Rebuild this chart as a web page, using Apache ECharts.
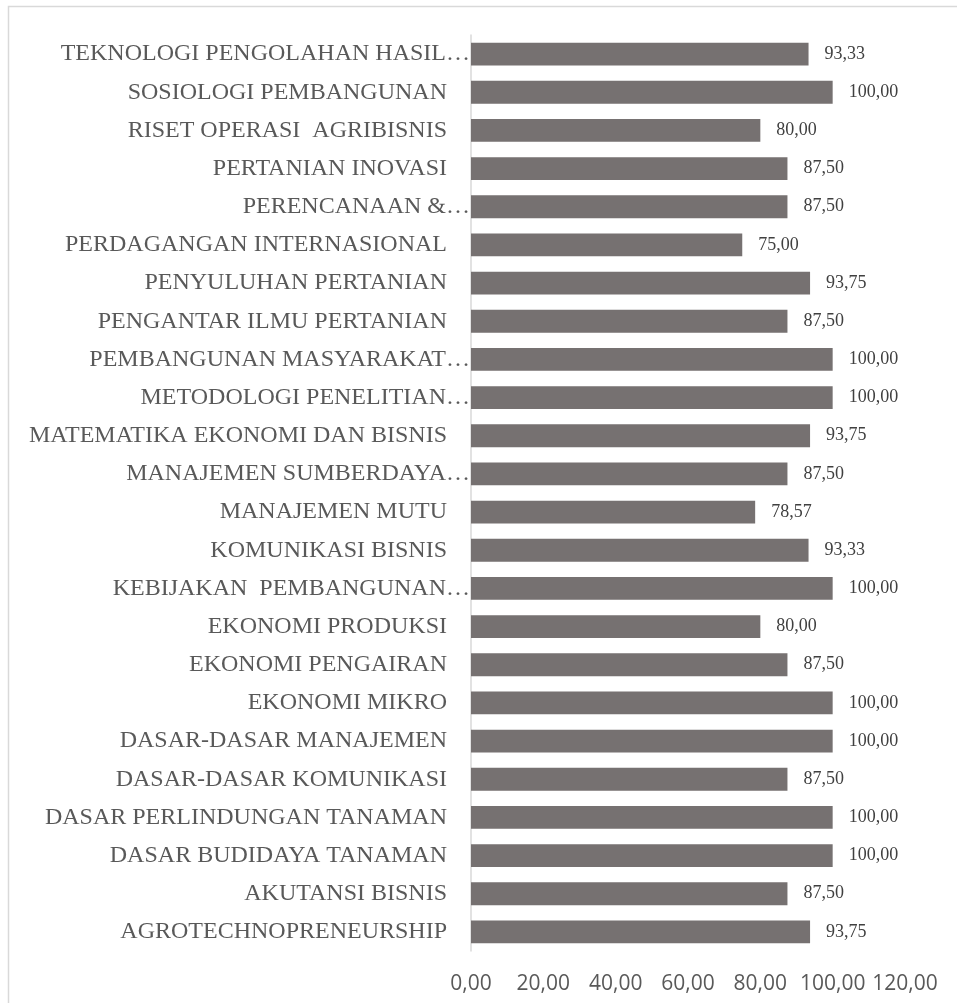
<!DOCTYPE html>
<html>
<head>
<meta charset="utf-8">
<script src="https://cdn.jsdelivr.net/npm/echarts@6/dist/echarts.min.js"></script>
<style>
  html, body { margin: 0; padding: 0; background: #fff; }
  #chart { width: 957px; height: 1003px; }
</style>
</head>
<body>
<div id="chart"></div>
<script>
// categories, top to bottom as in the picture
const categories = [
  'TEKNOLOGI PENGOLAHAN HASIL…',
  'SOSIOLOGI PEMBANGUNAN',
  'RISET OPERASI  AGRIBISNIS',
  'PERTANIAN INOVASI',
  'PERENCANAAN &…',
  'PERDAGANGAN INTERNASIONAL',
  'PENYULUHAN PERTANIAN',
  'PENGANTAR ILMU PERTANIAN',
  'PEMBANGUNAN MASYARAKAT…',
  'METODOLOGI PENELITIAN…',
  'MATEMATIKA EKONOMI DAN BISNIS',
  'MANAJEMEN SUMBERDAYA…',
  'MANAJEMEN MUTU',
  'KOMUNIKASI BISNIS',
  'KEBIJAKAN  PEMBANGUNAN…',
  'EKONOMI PRODUKSI',
  'EKONOMI PENGAIRAN',
  'EKONOMI MIKRO',
  'DASAR-DASAR MANAJEMEN',
  'DASAR-DASAR KOMUNIKASI',
  'DASAR PERLINDUNGAN TANAMAN',
  'DASAR BUDIDAYA TANAMAN',
  'AKUTANSI BISNIS',
  'AGROTECHNOPRENEURSHIP'
]
const values = [
  93.33, 100, 80, 87.5, 87.5, 75, 93.75, 87.5, 100, 100, 93.75, 87.5,
  78.57, 93.33, 100, 80, 87.5, 100, 100, 87.5, 100, 100, 87.5, 93.75
]
const xTicks = { min: 0, max: 120, interval: 20 }

const fmt = v => v.toFixed(2).replace('.', ',')

const chart = echarts.init(document.getElementById('chart'))
chart.setOption({
  animation: false,
  graphic: [{
    type: 'rect',
    shape: { x: 8.5, y: 6.5, width: 1000, height: 1050 },
    style: { fill: 'none', stroke: '#d9d9d9', lineWidth: 1.5 }
  }],
  grid: { left: 471, right: 52, top: 35, bottom: 52 },
  xAxis: {
    type: 'value',
    min: xTicks.min,
    max: xTicks.max,
    interval: xTicks.interval,
    splitLine: { show: false },
    axisLine: { show: false },
    axisTick: { show: false },
    axisLabel: {
      formatter: v => fmt(v),
      fontFamily: 'Open Sans',
      fontSize: 21,
      color: '#595959',
      margin: 23
    }
  },
  yAxis: {
    type: 'category',
    inverse: true,
    data: categories,
    axisLine: { show: true, lineStyle: { color: '#d9d9d9', width: 1.5 } },
    axisTick: { show: false },
    axisLabel: {
      margin: 1,
      formatter: v => v.endsWith('…') ? '{e|' + v + '}' : '{n|' + v + '}',
      rich: {
        e: { fontFamily: 'Liberation Serif', fontSize: 24, color: '#595959' },
        n: { fontFamily: 'Liberation Serif', fontSize: 24, color: '#595959', padding: [0, 23, 0, 0] }
      }
    }
  },
  series: [{
    type: 'bar',
    data: values,
    barCategoryGap: '40%',
    itemStyle: { color: '#767171' },
    label: {
      show: true,
      position: 'right',
      distance: 16,
      formatter: p => fmt(p.value),
      fontFamily: 'Liberation Serif',
      fontSize: 18,
      color: '#404040'
    }
  }]
})
</script>
</body>
</html>
